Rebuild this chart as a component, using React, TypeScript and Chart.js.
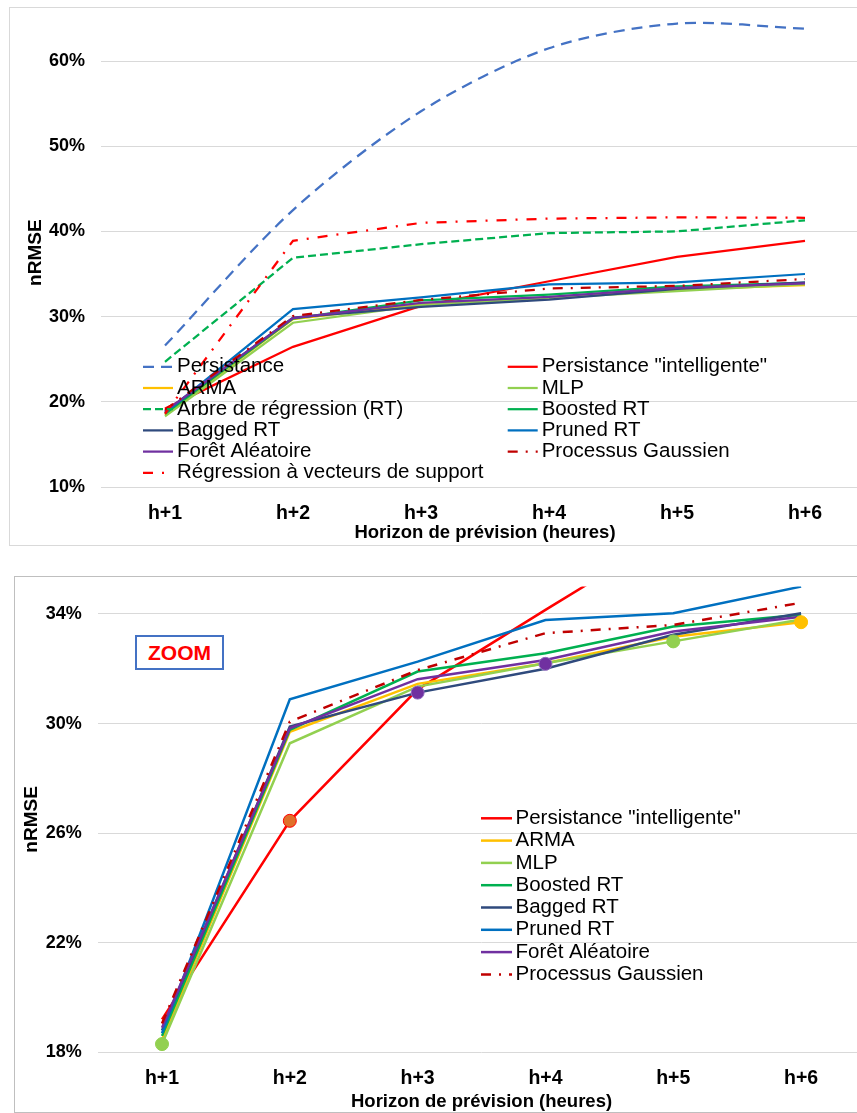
import React, { useEffect, useRef } from 'react';
import { Chart, registerables } from 'chart.js';

Chart.register(...registerables);

// ---------- data ----------
const HORIZONS = ['h+1', 'h+2', 'h+3', 'h+4', 'h+5', 'h+6'];
const TOP_Y_TICKS = [10, 20, 30, 40, 50, 60];
const ZOOM_Y_TICKS = [18, 22, 26, 30, 34];

const PERSISTANCE = [26.6, 42.5, 54.1, 61.5, 64.4, 63.8];
const PERSISTANCE_INTEL = [19.2, 26.45, 31.25, 34.15, 37.0, 38.9];
const ARMA = [18.45, 29.7, 31.45, 32.2, 33.17, 33.7];
const MLP = [18.3, 29.28, 31.35, 32.2, 33.0, 33.8];
const ARBRE_RT = [24.7, 36.9, 38.5, 39.8, 40.0, 41.3];
const BOOSTED_RT = [18.6, 29.77, 31.9, 32.57, 33.54, 33.97];
const BAGGED_RT = [18.8, 29.89, 31.13, 32.0, 33.24, 34.03];
const PRUNED_RT = [18.7, 30.89, 32.26, 33.78, 34.03, 35.0];
const FORET = [18.9, 29.83, 31.62, 32.32, 33.36, 33.9];
const PROC_GAUSS = [19.05, 30.07, 31.95, 33.3, 33.6, 34.41];
const SVR = [18.6, 38.9, 41.0, 41.5, 41.65, 41.6];
const BEST = [18.3, 26.45, 31.13, 32.18, 33.0, 33.7];

// ---------- styles ----------
const BEST_FILL = ['#92D050', '#E0702A', '#7030A0', '#7030A0', '#92D050', '#FFC000'];
const BEST_BORDER = ['#92D050', '#FF0000', '#8E6BBE', '#8E6BBE', '#92D050', '#FFC000'];

type Series = { label: string; data: number[]; color: string; dash: number[]; tension: number; zoom: boolean };

const SERIES: Series[] = [
  { label: 'Persistance', data: PERSISTANCE, color: '#4472C4', dash: [11, 7], tension: 0.3, zoom: false },
  { label: 'Persistance "intelligente"', data: PERSISTANCE_INTEL, color: '#FF0000', dash: [], tension: 0, zoom: true },
  { label: 'ARMA', data: ARMA, color: '#FFC000', dash: [], tension: 0, zoom: true },
  { label: 'MLP', data: MLP, color: '#92D050', dash: [], tension: 0, zoom: true },
  { label: 'Arbre de régression (RT)', data: ARBRE_RT, color: '#00B050', dash: [8, 4], tension: 0, zoom: false },
  { label: 'Boosted RT', data: BOOSTED_RT, color: '#00B050', dash: [], tension: 0, zoom: true },
  { label: 'Bagged RT', data: BAGGED_RT, color: '#2F4A7D', dash: [], tension: 0, zoom: true },
  { label: 'Pruned RT', data: PRUNED_RT, color: '#0070C0', dash: [], tension: 0, zoom: true },
  { label: 'Forêt Aléatoire', data: FORET, color: '#7030A0', dash: [], tension: 0, zoom: true },
  { label: 'Processus Gaussien', data: PROC_GAUSS, color: '#C00000', dash: [10, 8, 2, 8], tension: 0, zoom: true },
  { label: 'Régression à vecteurs de support', data: SVR, color: '#FF0000', dash: [10, 9, 2, 9], tension: 0, zoom: false },
];

const FONT = '"Liberation Sans", Arial, Helvetica, sans-serif';

const legendPlugin = {
  id: 'customLegend',
  afterDraw(chart: any, _args: any, opts: any) {
    if (!opts || !opts.items) return;
    const { ctx } = chart;
    const items: number[] = opts.items;
    ctx.save();
    ctx.font = opts.font;
    ctx.textBaseline = 'middle';
    ctx.textAlign = 'left';
    items.forEach((dsIndex: number, k: number) => {
      const ds = chart.data.datasets[dsIndex];
      const col = k % opts.cols;
      const row = Math.floor(k / opts.cols);
      const lx = opts.x + col * opts.colWidth;
      const ly = opts.y + row * opts.rowHeight;
      ctx.strokeStyle = ds.borderColor;
      ctx.lineWidth = ds.borderWidth;
      ctx.setLineDash(ds.borderDash || []);
      ctx.beginPath();
      ctx.moveTo(lx, ly);
      ctx.lineTo(lx + opts.sampleLen, ly);
      ctx.stroke();
      ctx.setLineDash([]);
      ctx.fillStyle = '#000';
      ctx.fillText(ds.label, lx + opts.sampleLen + opts.gap, ly);
    });
    ctx.restore();
  },
};

function lineDatasets(list: Series[], width: number) {
  return list.map((s, i) => ({
    label: s.label,
    data: s.data,
    borderColor: s.color,
    backgroundColor: s.color,
    borderWidth: width,
    borderDash: s.dash,
    tension: s.tension,
    pointRadius: 0,
    fill: false,
    order: list.length - i,
  }));
}

function makeOptions(cfg: any) {
  return {
    responsive: false,
    animation: false as const,
    layout: { padding: { left: 0, top: cfg.padTop, right: cfg.padRight, bottom: 0 } },
    plugins: {
      legend: { display: false },
      tooltip: { enabled: false },
      customLegend: cfg.legend,
    },
    scales: {
      x: {
        type: 'category' as const,
        offset: true,
        grid: { display: false, drawTicks: false },
        border: { display: false },
        ticks: { color: '#000', padding: cfg.xTickPad, font: { family: FONT, size: 19.5, weight: 'bold' as const } },
        title: {
          display: true,
          text: 'Horizon de prévision (heures)',
          color: '#000',
          font: { family: FONT, size: 18.5, weight: 'bold' as const },
          padding: { top: 0, bottom: cfg.xTitlePad },
        },
        afterFit: (scale: any) => {
          scale.height = cfg.xHeight;
          scale.paddingLeft = 0;
          scale.paddingRight = 0;
        },
      },
      y: {
        type: 'linear' as const,
        min: cfg.yMin,
        max: cfg.yMax,
        grid: { color: '#D9D9D9', lineWidth: 1, drawTicks: false },
        border: { display: false },
        ticks: {
          color: '#000',
          padding: cfg.yTickPad,
          font: { family: FONT, size: 18, weight: 'bold' as const },
          callback: (v: any) => `${Math.round(Number(v))}%`,
        },
        afterBuildTicks: (scale: any) => {
          scale.ticks = cfg.yTicks.map((v: number) => ({ value: v }));
        },
        title: {
          display: true,
          text: 'nRMSE',
          color: '#000',
          font: { family: FONT, size: 19, weight: 'bold' as const },
          padding: { top: cfg.yTitlePad, bottom: 0 },
        },
        afterFit: (scale: any) => {
          scale.width = cfg.yWidth;
          scale.paddingTop = 0;
          scale.paddingBottom = 0;
        },
      },
    },
  };
}

export default function App() {
  const topRef = useRef<HTMLCanvasElement>(null);
  const zoomRef = useRef<HTMLCanvasElement>(null);

  useEffect(() => {
    document.body.style.margin = '0';
    document.body.style.overflow = 'hidden';

    const topData = lineDatasets(SERIES, 2.25);
    const top = new Chart(topRef.current as HTMLCanvasElement, {
      type: 'line',
      data: { labels: HORIZONS, datasets: topData as any },
      options: makeOptions({
        padTop: 18.4,
        padRight: 11,
        xHeight: 61,
        xTickPad: 14.5,
        xTitlePad: 3.5,
        yMin: 10,
        yMax: 65,
        yTicks: TOP_Y_TICKS,
        yTickPad: 16,
        yTitlePad: 24,
        yWidth: 101,
        legend: {
          items: SERIES.map((_, i) => i),
          x: 143,
          y: 366.8,
          cols: 2,
          colWidth: 364.7,
          rowHeight: 21.2,
          sampleLen: 30,
          gap: 4,
          font: `20.5px ${FONT}`,
        },
      }) as any,
      plugins: [legendPlugin],
    });

    const zoomSeries = SERIES.filter((s) => s.zoom);
    const zoomData: any[] = lineDatasets(zoomSeries, 2.5);
    zoomData.push({
      label: 'best',
      data: BEST,
      showLine: false,
      pointRadius: 6.5,
      pointBackgroundColor: BEST_FILL,
      pointBorderColor: BEST_BORDER,
      pointBorderWidth: 1,
      borderColor: 'transparent',
      order: -1,
    });
    const zoom = new Chart(zoomRef.current as HTMLCanvasElement, {
      type: 'line',
      data: { labels: HORIZONS, datasets: zoomData },
      options: makeOptions({
        padTop: 26.6,
        padRight: 15,
        xHeight: 60.7,
        xTickPad: 14.2,
        xTitlePad: 0,
        yMin: 18,
        yMax: 35,
        yTicks: ZOOM_Y_TICKS,
        yTickPad: 16.3,
        yTitlePad: 20.5,
        yWidth: 98.1,
        legend: {
          items: zoomSeries.map((_, i) => i),
          x: 481,
          y: 258.3,
          cols: 1,
          colWidth: 0,
          rowHeight: 22.3,
          sampleLen: 31,
          gap: 3.5,
          font: `20.5px ${FONT}`,
        },
      }) as any,
      plugins: [legendPlugin],
    });

    return () => {
      top.destroy();
      zoom.destroy();
    };
  }, []);

  return (
    <div style={{ position: 'relative', width: 857, height: 1113, overflow: 'hidden', background: '#fff' }}>
      <div
        style={{
          position: 'absolute', left: 9, top: 7, width: 900, height: 539,
          border: '1px solid #D9D9D9', boxSizing: 'border-box',
        }}
      />
      <div
        style={{
          position: 'absolute', left: 14, top: 576, width: 900, height: 537,
          border: '1px solid #BFBFBF', boxSizing: 'border-box',
        }}
      />
      <canvas
        ref={topRef}
        width={880}
        height={548}
        style={{ position: 'absolute', left: 0, top: 0, width: 880, height: 548 }}
      />
      <canvas
        ref={zoomRef}
        width={880}
        height={553}
        style={{ position: 'absolute', left: 0, top: 560, width: 880, height: 553 }}
      />
      <div
        style={{
          position: 'absolute', left: 135, top: 635, width: 89, height: 35,
          border: '2px solid #4472C4', boxSizing: 'border-box', background: '#fff',
          display: 'flex', alignItems: 'center', justifyContent: 'center',
          color: '#FF0000', fontFamily: FONT, fontWeight: 'bold', fontSize: 21,
        }}
      >
        ZOOM
      </div>
    </div>
  );
}
